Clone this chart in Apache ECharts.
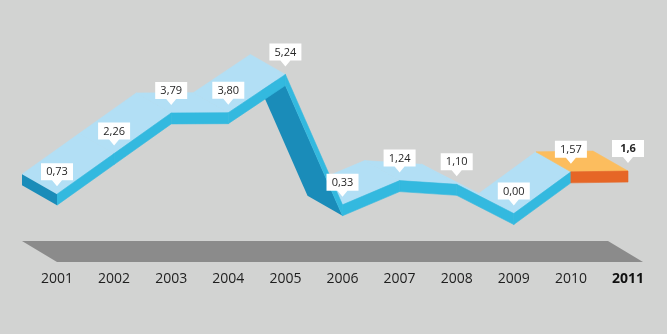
<!DOCTYPE html>
<html>
<head>
<meta charset="utf-8">
<script src="https://cdn.jsdelivr.net/npm/echarts@6/dist/echarts.min.js"></script>
<style>
  html, body { margin: 0; padding: 0; background: #d2d3d2; }
  #chart { width: 667px; height: 334px; }
</style>
</head>
<body>
<div id="chart"></div>
<script>
// Yearly values, 2011 is the estimate drawn in orange
const categories = ['2001', '2002', '2003', '2004', '2005', '2006', '2007', '2008', '2009', '2010', '2011'];
const values = [0.73, 2.26, 3.79, 3.80, 5.24, 0.33, 1.24, 1.10, 0.00, 1.57, 1.6];
const decimals = [2, 2, 2, 2, 2, 2, 2, 2, 2, 2, 1];

// Ribbon geometry (pixels) and colours
const DEPTH = [-35, -20];     // extrusion of the ribbon towards the back
const THICK = 11;             // height of the front band
const GROUND = -1.83;         // value level of the floor slab
const FLOOR_DEPTH = [-35, -21];
const FLOOR_EXTRA = 15;
const C = {
  top: '#b2dff5', front: '#33b9df', under: '#1a8cb9',
  topEst: '#fcbd5e', frontEst: '#e66626', floor: '#8b8b8b'
};

const last = values.length - 1;
const segments = values.slice(0, -1).map((v, i) => [i, v, values[i + 1]]);
const points = values.map((v, i) => [i, v]);
const fmt = (v, d) => v.toFixed(d).replace('.', ',');

const add = (p, dx, dy) => [p[0] + dx, p[1] + dy];

function segEnds(api, i) {
  return { a: api.coord([i, values[i]]), b: api.coord([i + 1, values[i + 1]]) };
}

// A segment shows its underside when it drops more steeply than the depth direction
function showsUnderside(api, i) {
  if (i < 0 || i >= last) return false;
  const { a, b } = segEnds(api, i);
  return (b[0] - a[0]) * DEPTH[1] - (b[1] - a[1]) * DEPTH[0] > 0;
}

// Upper surface of each ribbon segment (or its underside when it drops steeply)
function renderSurface(params, api) {
  const i = api.value(0);
  const { a, b } = segEnds(api, i);
  const est = i === last - 1;
  if (showsUnderside(api, i)) {
    const a2 = add(a, 0, THICK), b2 = add(b, 0, THICK);
    return {
      type: 'polygon', z2: 5,
      shape: { points: [a2, b2, add(b2, DEPTH[0], DEPTH[1]), add(a2, DEPTH[0], DEPTH[1])] },
      style: { fill: C.under }
    };
  }
  const col = est ? C.topEst : C.top;
  return {
    type: 'polygon',
    // faces right after a steep drop sit behind that drop
    z2: showsUnderside(api, i - 1) ? 2 : 10,
    shape: { points: [a, b, add(b, DEPTH[0], DEPTH[1]), add(a, DEPTH[0], DEPTH[1])] },
    style: { fill: col, stroke: col, lineWidth: 0.6 }
  };
}

// Front band of each segment, plus the left end cap
function renderFront(params, api) {
  const i = api.value(0);
  const { a, b } = segEnds(api, i);
  const col = i === last - 1 ? C.frontEst : C.front;
  const children = [{
    type: 'polygon',
    shape: { points: [a, b, add(b, 0, THICK), add(a, 0, THICK)] },
    style: { fill: col, stroke: col, lineWidth: 0.6 }
  }];
  if (i === 0) {
    const back = add(a, DEPTH[0], DEPTH[1]);
    children.push({
      type: 'polygon',
      shape: { points: [a, back, add(back, 0, THICK), add(a, 0, THICK)] },
      style: { fill: C.under }
    });
  }
  return { type: 'group', children };
}

function renderFloor(params, api) {
  const a = api.coord([0, GROUND]);
  const b = add(api.coord([last, GROUND]), FLOOR_EXTRA, 0);
  return {
    type: 'polygon',
    shape: { points: [a, b, add(b, FLOOR_DEPTH[0], FLOOR_DEPTH[1]), add(a, FLOOR_DEPTH[0], FLOOR_DEPTH[1])] },
    style: { fill: C.floor }
  };
}

// White value callouts with a small pointer
function renderCallout(params, api) {
  const i = api.value(0);
  const v = api.value(1);
  const p = api.coord([i, v]);
  const tipY = p[1] - 8;
  const w = 32, h = 17, pw = 5, ph = 6;
  const bottom = tipY - ph, topY = bottom - h;
  const x0 = p[0] - w / 2, x1 = p[0] + w / 2;
  return {
    type: 'group',
    children: [{
      type: 'polygon',
      shape: { points: [[x0, topY], [x1, topY], [x1, bottom], [p[0] + pw, bottom], [p[0], tipY], [p[0] - pw, bottom], [x0, bottom]] },
      style: { fill: '#ffffff' }
    }, {
      type: 'text',
      style: {
        text: fmt(v, decimals[i]),
        x: p[0], y: topY + h / 2 + 0.5,
        align: 'center', verticalAlign: 'middle',
        fill: '#262626',
        font: (i === last ? 'bold ' : '') + '11px "Open Sans", sans-serif'
      }
    }]
  };
}

const chart = echarts.init(document.getElementById('chart'), null, { renderer: 'canvas' });
chart.setOption({
  backgroundColor: '#d2d3d2',
  animation: false,
  grid: { left: 57, right: 39, top: 54.3, bottom: 67.4 },
  xAxis: {
    type: 'category',
    data: categories,
    boundaryGap: false,
    axisLine: { show: false },
    axisTick: { show: false },
    splitLine: { show: false },
    axisLabel: {
      interval: 0,
      margin: 5,
      fontFamily: 'Open Sans',
      fontSize: 14,
      color: '#1e1e1e',
      formatter: (val, idx) => idx === last ? '{b|' + val + '}' : val,
      rich: { b: { fontFamily: 'Open Sans', fontSize: 14, fontWeight: 'bold', color: '#111' } }
    }
  },
  yAxis: { type: 'value', min: -2, max: 6, show: false },
  series: [
    { type: 'custom', z: 1, renderItem: renderFloor, data: [[0, GROUND]], silent: true },
    { type: 'custom', z: 2, renderItem: renderSurface, data: segments, silent: true },
    { type: 'custom', z: 3, renderItem: renderFront, data: segments, silent: true },
    { type: 'custom', z: 4, renderItem: renderCallout, data: points, silent: true }
  ]
});
</script>
</body>
</html>
